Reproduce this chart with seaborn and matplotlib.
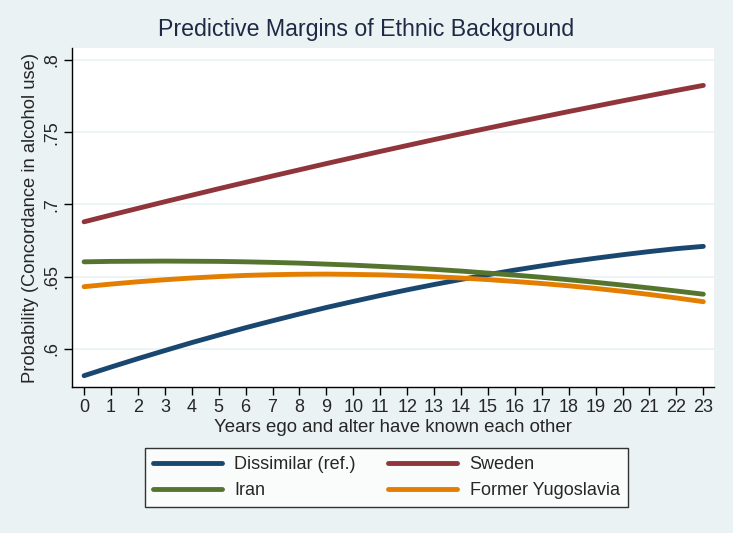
import numpy as np
import pandas as pd
import seaborn as sns
import matplotlib.pyplot as plt

# years known (x axis)
years = list(range(24))

# predicted probabilities
dissimilar = [0.5815, 0.5875, 0.5933, 0.5989, 0.6044, 0.6096, 0.6147, 0.6195,
              0.6242, 0.6287, 0.6329, 0.6370, 0.6409, 0.6446, 0.6481, 0.6514,
              0.6546, 0.6575, 0.6603, 0.6628, 0.6652, 0.6674, 0.6694, 0.6710]
sweden = [0.6880, 0.6927, 0.6973, 0.7019, 0.7064, 0.7109, 0.7153, 0.7197,
          0.7240, 0.7283, 0.7325, 0.7367, 0.7408, 0.7449, 0.7489, 0.7528,
          0.7567, 0.7605, 0.7643, 0.7680, 0.7717, 0.7753, 0.7789, 0.7824]
iran = [0.6603, 0.6606, 0.6607, 0.6608, 0.6607, 0.6606, 0.6603, 0.6599,
        0.6594, 0.6587, 0.6580, 0.6571, 0.6562, 0.6551, 0.6539, 0.6525,
        0.6511, 0.6496, 0.6479, 0.6461, 0.6442, 0.6422, 0.6401, 0.6379]
yugoslavia = [0.6431, 0.6449, 0.6465, 0.6479, 0.6491, 0.6501, 0.6509, 0.6514,
              0.6517, 0.6518, 0.6516, 0.6513, 0.6507, 0.6500, 0.6491, 0.6480,
              0.6467, 0.6453, 0.6437, 0.6419, 0.6399, 0.6377, 0.6353, 0.6327]

groups = ['Dissimilar (ref.)', 'Iran', 'Sweden', 'Former Yugoslavia']
colors = ['#1a476f', '#55752f', '#90353b', '#e37e00']
yticks = [0.6, 0.65, 0.7, 0.75, 0.8]
ytick_labels = ['.6', '.65', '.7', '.75', '.8']

series = {'Dissimilar (ref.)': dissimilar, 'Iran': iran,
          'Sweden': sweden, 'Former Yugoslavia': yugoslavia}
df = pd.concat([pd.DataFrame({'years': years, 'prob': v, 'group': k})
                for k, v in series.items()], ignore_index=True)

sns.set_style('white')
plt.rcParams['font.family'] = ['Liberation Sans', 'DejaVu Sans']

bg = '#eaf2f3'
fig = plt.figure(figsize=(7.33, 5.33), dpi=100, facecolor=bg)
ax = fig.add_axes([0.0982, 0.274, 0.876, 0.636])
ax.set_facecolor('white')

sns.lineplot(data=df, x='years', y='prob', hue='group', hue_order=groups,
             palette=dict(zip(groups, colors)), lw=3.5, ax=ax, legend=False)

ax.set_xlim(-0.45, 23.4)
ax.set_ylim(0.5737, 0.8083)
ax.set_xticks(years)
ax.set_yticks(yticks)
ax.set_yticklabels(ytick_labels, rotation=90, va='center')
ax.tick_params(axis='both', which='major', bottom=True, left=True,
               direction='out', length=5.5, width=1, color='black',
               labelsize=13, pad=3)
ax.grid(axis='y', color='#eaf2f3', lw=1.2)
ax.set_axisbelow(True)
for s in ['top', 'right']:
    ax.spines[s].set_visible(False)
for s in ['left', 'bottom']:
    ax.spines[s].set_color('black')
    ax.spines[s].set_linewidth(1)

ax.set_xlabel('Years ego and alter have known each other', fontsize=13.4, labelpad=2.5)
ax.set_ylabel('Probability (Concordance in alcohol use)', fontsize=13.2, labelpad=3)
fig.text(0.5, 0.944, 'Predictive Margins of Ethnic Background', ha='center',
         va='center', fontsize=16.7, color='#1e2a45')

# legend: Stata order (row 1: Dissimilar, Sweden; row 2: Iran, Yugoslavia)
handles = [plt.Line2D([], [], color=c, lw=3.5) for c in colors]
leg = fig.legend(handles, groups, loc='center', bbox_to_anchor=(0.527, 0.104),
                 ncol=2, fontsize=13, frameon=True, fancybox=False,
                 handlelength=3.8, columnspacing=1.8, handletextpad=0.7,
                 borderpad=0.45, labelspacing=0.5, borderaxespad=0)
leg.get_frame().set_edgecolor('black')
leg.get_frame().set_linewidth(1)

fig.savefig('out.png', dpi=100, facecolor=bg)
